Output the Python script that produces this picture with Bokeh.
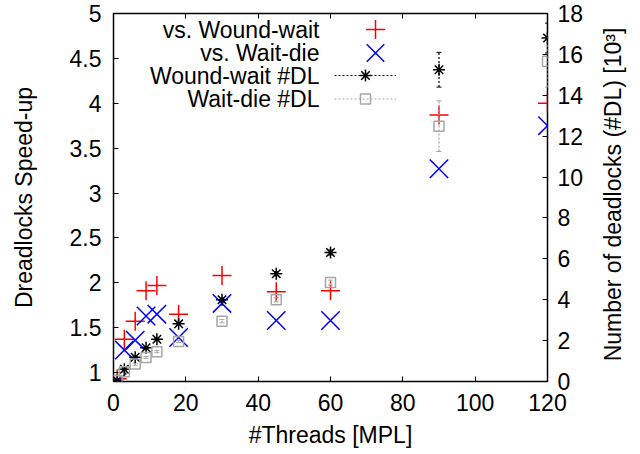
import math
from bokeh.plotting import figure
from bokeh.layouts import row
from bokeh.models import (Range1d, LinearAxis, Legend, LegendItem, Label,
                          FixedTicker, CustomJSTickFormatter)
from bokeh.embed import file_html
from bokeh.resources import INLINE

# ---------------- data ----------------
threads = [1, 3, 6, 9, 12, 18, 30, 45, 60, 90, 120]
speedup_vs_woundwait = [0.93, 1.37, 1.57, 1.91, 1.97, 1.65, 2.08, 1.90, 1.91, 3.87, 4.00]
speedup_vs_waitdie = [0.89, 1.25, 1.36, 1.63, 1.65, 1.39, 1.77, 1.58, 1.58, 3.27, 3.75]
dl_woundwait = [0.05, 0.60, 1.19, 1.65, 2.07, 2.82, 4.00, 5.27, 6.31, 15.25, 16.80]
dl_woundwait_err = [0.02, 0.04, 0.05, 0.05, 0.05, 0.06, 0.08, 0.10, 0.12, 0.85, 0.73]
dl_waitdie = [0.05, 0.48, 0.85, 1.17, 1.46, 1.96, 2.95, 4.00, 4.84, 12.49, 15.67]
dl_waitdie_err = [0.02, 0.04, 0.05, 0.05, 0.05, 0.06, 0.08, 0.10, 0.12, 1.24, 1.27]

x_ticks = [0, 20, 40, 60, 80, 100, 120]
left_ticks = [1, 1.5, 2, 2.5, 3, 3.5, 4, 4.5, 5]
right_ticks = [0, 2, 4, 6, 8, 10, 12, 14, 16, 18]

FONT = "Liberation Sans"
FS = "23px"
GRAY = "#a6a6a6"

p = figure(width=592, height=454, output_backend="svg", toolbar_location=None,
           x_range=Range1d(0, 120), y_range=Range1d(0.9, 5),
           min_border_left=113, min_border_right=45,
           min_border_top=13, min_border_bottom=73)
p.extra_y_ranges = {"dl": Range1d(0, 18)}
p.xgrid.visible = False
p.ygrid.visible = False
p.outline_line_color = "black"
p.outline_line_width = 1.5
p.background_fill_color = "white"
p.border_fill_color = "white"


def style_axis(ax):
    ax.axis_line_color = None
    ax.major_tick_in = 5
    ax.major_tick_out = 0
    ax.minor_tick_line_color = None
    ax.major_tick_line_color = "black"
    ax.major_tick_line_width = 1
    ax.major_label_text_font = FONT
    ax.major_label_text_font_size = FS
    ax.major_label_text_color = "black"
    ax.axis_label_text_font = FONT
    ax.axis_label_text_font_size = FS
    ax.axis_label_text_font_style = "normal"
    ax.axis_label_text_color = "black"


xa = p.xaxis[0]
style_axis(xa)
xa.ticker = FixedTicker(ticks=x_ticks)
xa.axis_label = "#Threads [MPL]"
xa.major_label_standoff = 12
xa.axis_label_standoff = 8

ya = p.yaxis[0]
style_axis(ya)
ya.ticker = FixedTicker(ticks=left_ticks)
ya.formatter = CustomJSTickFormatter(code="return String(tick)")
ya.axis_label = "Dreadlocks Speed-up"
ya.major_label_standoff = 12
ya.axis_label_standoff = 30

ra = LinearAxis(y_range_name="dl")
style_axis(ra)
ra.ticker = FixedTicker(ticks=right_ticks)
ra.major_label_standoff = 10
p.add_layout(ra, "right")

ta = LinearAxis()
style_axis(ta)
ta.ticker = FixedTicker(ticks=x_ticks)
ta.formatter = CustomJSTickFormatter(code="return ''")
ta.major_label_text_font_size = "1px"
p.add_layout(ta, "above")

# ---------------- glyphs ----------------
r_ww = p.scatter(threads, speedup_vs_woundwait, marker="cross", size=19,
                 line_color="red", line_width=1.5)
r_wd = p.scatter(threads, speedup_vs_waitdie, marker="x", size=26,
                 line_color="blue", line_width=1.5)

ww_lo = [v - e for v, e in zip(dl_woundwait, dl_woundwait_err)]
ww_hi = [v + e for v, e in zip(dl_woundwait, dl_woundwait_err)]
wd_lo = [v - e for v, e in zip(dl_waitdie, dl_waitdie_err)]
wd_hi = [v + e for v, e in zip(dl_waitdie, dl_waitdie_err)]

seg_ww = p.segment(x0=threads, y0=ww_lo, x1=threads, y1=ww_hi, line_color="black",
                   line_width=1.2, line_dash="2 2", y_range_name="dl")
p.scatter(threads + threads, ww_lo + ww_hi, marker="dash", size=5, line_color="black",
          line_width=1, y_range_name="dl")
seg_wd = p.segment(x0=threads, y0=wd_lo, x1=threads, y1=wd_hi, line_color=GRAY,
                   line_width=1.2, line_dash="2 2", y_range_name="dl")
p.scatter(threads + threads, wd_lo + wd_hi, marker="dash", size=5, line_color=GRAY,
          line_width=1, y_range_name="dl")

r_dlww = p.scatter(threads, dl_woundwait, marker="asterisk", size=12,
                   line_color="black", line_width=1.5, y_range_name="dl")
r_dlwd = p.scatter(threads, dl_waitdie, marker="square", size=10,
                   line_color=GRAY, fill_color=None, line_width=1.5, y_range_name="dl")

# ---------------- legend (text right-aligned, sample on the right) ----------------
labels = ["vs. Wound-wait", "vs. Wait-die", "Wound-wait #DL", "Wait-die #DL"]
row_y = [352, 329, 306, 283]          # screen px from frame bottom
glyph_h = [48, 65, 30, 25]
glyph_x = [231, 231, 221, 221]
rend_sets = [[r_ww], [r_wd], [seg_ww, r_dlww], [seg_wd, r_dlwd]]

for lab, yy, gh, gx, rs in zip(labels, row_y, glyph_h, glyph_x, rend_sets):
    p.add_layout(Label(x=206, y=yy, x_units="screen", y_units="screen", text=lab,
                       text_align="right", text_baseline="middle",
                       text_font=FONT, text_font_size=FS, text_color="black"))
    lg = Legend(items=[LegendItem(label=" ", renderers=rs)],
                location=(gx, yy - gh / 2), glyph_width=62, glyph_height=gh,
                padding=0, margin=0, spacing=0, label_standoff=0,
                label_width=1, label_height=1, label_text_font_size="1px",
                border_line_color=None, background_fill_alpha=0)
    p.add_layout(lg, "center")

# ---------------- right axis title panel (reads bottom to top) ----------------
t = figure(width=48, height=454, output_backend="svg", toolbar_location=None,
           x_range=Range1d(0, 1), y_range=Range1d(0, 1),
           x_axis_location=None, y_axis_location=None,
           min_border=0, min_border_left=0, min_border_right=0,
           min_border_top=0, min_border_bottom=0)
t.xgrid.visible = False
t.ygrid.visible = False
t.outline_line_color = None
t.background_fill_color = "white"
t.border_fill_color = "white"
t.add_layout(Label(x=20, y=187, x_units="screen", y_units="screen",
                   text="Number of deadlocks (#DL) [10\u00b3]", angle=math.pi / 2,
                   text_align="center", text_baseline="middle",
                   text_font=FONT, text_font_size=FS, text_color="black"))

layout = row(p, t, spacing=0)
open("out.html", "w").write(file_html(layout, INLINE))
